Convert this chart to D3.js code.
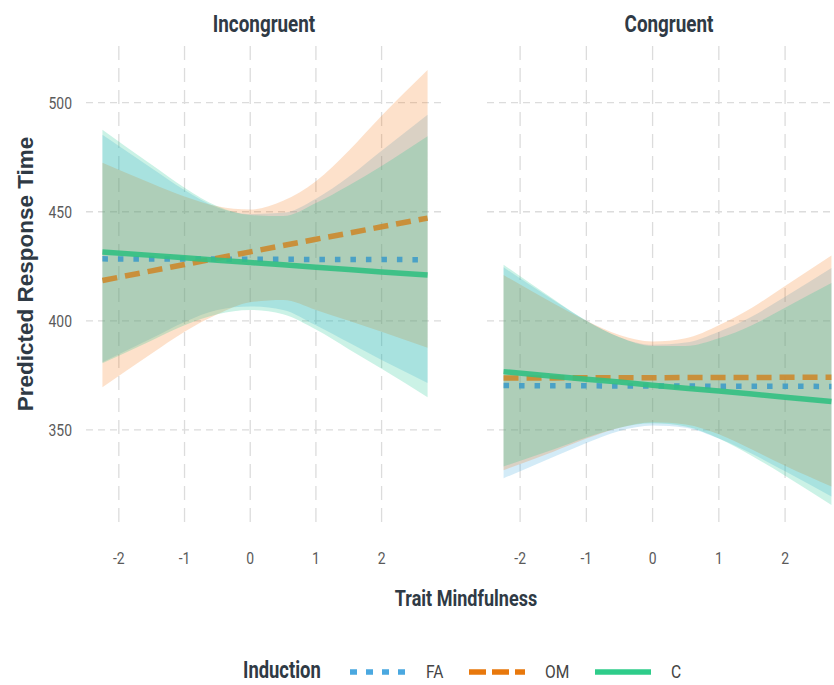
<!DOCTYPE html>
<html>
<head>
<meta charset="utf-8">
<script src="https://cdn.jsdelivr.net/npm/d3@7"></script>
<style>body{margin:0;background:#fff}</style>
</head>
<body>
<script>
let width = 834;
let height = 685;

let panels = ["Incongruent", "Congruent"];
let inductions = ["FA", "OM", "C"];
let mindfulness = [-2.25, -1.5, -1, -0.5, 0, 0.5, 1, 1.5, 2, 2.7];
let xTicks = [-2, -1, 0, 1, 2];
let yTicks = [350, 400, 450, 500];

// Incongruent panel: fitted value and interval bounds at each mindfulness score
let incFA = [428.4, 428.3, 428.3, 428.3, 428.2, 428.2, 428.1, 428.1, 428.1, 428.0];
let incFALow = [381, 392, 399.5, 405, 406.6, 405, 398, 390, 382, 371.5];
let incFAHigh = [485.3, 470, 460, 452, 449, 449.5, 456, 466, 478, 494.5];
let incOM = [418.5, 422.9, 425.8, 428.7, 431.6, 434.5, 437.4, 440.2, 443.1, 447.1];
let incOMLow = [369.5, 385, 395, 403, 408.5, 409.5, 405, 400, 395, 387.6];
let incOMHigh = [472.5, 463, 457, 452.5, 451, 455, 464, 478, 494, 515];
let incC = [431.6, 430.0, 428.9, 427.8, 426.7, 425.7, 424.6, 423.5, 422.4, 421.0];
let incCLow = [380.5, 391, 398, 403, 405, 403, 396, 387, 378, 365];
let incCHigh = [487.6, 471.5, 461, 452.5, 448.5, 448, 454, 462, 471, 484.6];

// Congruent panel
let conFA = [370.3, 370.2, 370.2, 370.1, 370.1, 370.1, 370.0, 370.0, 370.0, 369.9];
let conFALow = [327.8, 337.5, 344, 349.5, 352, 351, 346, 339, 331, 319.4];
let conFAHigh = [424.5, 409.5, 400, 392.5, 389, 390, 395, 402, 411, 424.2];
let conOM = [373.8, 373.8, 373.9, 373.9, 373.9, 374.0, 374.0, 374.0, 374.1, 374.1];
let conOMLow = [331.5, 340, 346, 351, 353.5, 352.5, 348, 341, 333.5, 324];
let conOMHigh = [421, 408, 400, 393.5, 390.5, 392, 398, 406, 416, 430];
let conC = [376.7, 374.6, 373.2, 371.9, 370.5, 369.1, 367.8, 366.4, 365.0, 363.0];
let conCLow = [333.2, 341, 346.5, 351, 353, 351.5, 346, 338, 329, 315.6];
let conCHigh = [425.7, 410, 400, 392.5, 388.5, 388.5, 392, 398, 406, 417.3];

let series = {
  Incongruent: {
    FA: [incFA, incFALow, incFAHigh],
    OM: [incOM, incOMLow, incOMHigh],
    C: [incC, incCLow, incCHigh]
  },
  Congruent: {
    FA: [conFA, conFALow, conFAHigh],
    OM: [conOM, conOMLow, conOMHigh],
    C: [conC, conCLow, conCHigh]
  }
};

let lineColor = { FA: "#4aa8e0", OM: "#e8780c", C: "#2ecc8a" };
let plotColor = { FA: "#3f9cc8", OM: "#cc8a2e", C: "#33c082" };
let fillColor = { FA: "#37a3db", OM: "#f57814", C: "#13c38b" };
let dash = { FA: "5.5,10", OM: "15,8", C: null };

let ink = "#2f3a45";
let tickInk = "#5a5a5a";
let font = "Roboto, 'Liberation Sans', sans-serif";
let squish = 0.82;

let svg = d3.select("body")
            .append("svg")
            .attr("width", width)
            .attr("height", height)
            .style("font-family", font);

let y = d3.scaleLinear().domain([305, 526]).range([528, 46]);
let xRanges = [[86, 444], [487, 848]];

// squeeze text horizontally, condensed look
function place(sel, px, py, sx) {
  return sel.attr("transform", "translate(" + px + "," + py + ") scale(" + sx + ",1)");
}

panels.forEach(function(p, i) {
  let x = d3.scaleLinear().domain([-2.5, 2.95]).range(xRanges[i]);
  let g = svg.append("g");

  // grid
  g.selectAll(".vgrid").data(xTicks).enter().append("line")
    .attr("x1", d => x(d)).attr("x2", d => x(d))
    .attr("y1", y.range()[1]).attr("y2", y.range()[0])
    .attr("stroke", "#dcdcdc").attr("stroke-width", 1.3)
    .attr("stroke-dasharray", "14,8");
  g.selectAll(".hgrid").data(yTicks).enter().append("line")
    .attr("x1", xRanges[i][0]).attr("x2", xRanges[i][1])
    .attr("y1", d => y(d)).attr("y2", d => y(d))
    .attr("stroke", "#dcdcdc").attr("stroke-width", 1.3)
    .attr("stroke-dasharray", "7,5");

  let rows = inductions.map(function(k) {
    let s = series[p][k];
    return { key: k, pts: mindfulness.map((m, j) => ({ m: m, fit: s[0][j], lo: s[1][j], hi: s[2][j] })) };
  });

  let line = d3.line().x(d => x(d.m)).y(d => y(d.fit));
  let area = d3.area().x(d => x(d.m)).y0(d => y(d.lo)).y1(d => y(d.hi))
               .curve(d3.curveMonotoneX);

  g.selectAll(".band").data(rows).enter().append("path")
    .attr("d", d => area(d.pts))
    .attr("fill", d => fillColor[d.key])
    .attr("fill-opacity", 0.22);

  g.selectAll(".fit").data(rows).enter().append("path")
    .attr("d", d => line(d.pts))
    .attr("fill", "none")
    .attr("stroke", d => plotColor[d.key])
    .attr("stroke-opacity", 0.9)
    .attr("stroke-width", 5.5)
    .attr("stroke-dasharray", d => dash[d.key]);

  // x tick labels
  g.selectAll(".xt").data(xTicks).enter().append("text")
    .attr("text-anchor", "middle")
    .attr("font-size", 17).attr("fill", tickInk)
    .text(d => d)
    .each(function(d) { place(d3.select(this), x(d), 564, squish); });

  // facet title
  place(g.append("text"), i ? 669 : 264, 32, squish)
    .attr("text-anchor", "middle")
    .attr("font-size", 23).attr("font-weight", "bold").attr("fill", ink)
    .text(p);
});

// y tick labels (left panel only)
svg.selectAll(".yt").data(yTicks).enter().append("text")
  .attr("text-anchor", "end")
  .attr("font-size", 17).attr("fill", tickInk)
  .text(d => d)
  .each(function(d) { place(d3.select(this), 72, y(d) + 6, squish); });

// axis titles
place(svg.append("text"), 466, 606, squish)
  .attr("text-anchor", "middle")
  .attr("font-size", 22).attr("font-weight", "bold").attr("fill", ink)
  .text("Trait Mindfulness");

svg.append("text")
  .attr("transform", "translate(33,274) rotate(-90)")
  .attr("text-anchor", "middle")
  .attr("font-family", "'Liberation Sans', Arial, sans-serif")
  .attr("font-size", 22.5).attr("font-weight", "bold").attr("fill", ink)
  .text("Predicted Response Time");

// legend
let legend = svg.append("g");
place(legend.append("text"), 243, 678, 0.8)
  .attr("font-size", 23).attr("font-weight", "bold").attr("fill", ink)
  .text("Induction");

let keyX = { FA: 350, OM: 469, C: 595 };
let keys = legend.selectAll(".key").data(inductions).enter().append("g")
  .attr("transform", d => "translate(" + keyX[d] + ",672)");
keys.append("line")
  .attr("x1", 0).attr("x2", 56)
  .attr("stroke", d => lineColor[d]).attr("stroke-width", 5.5)
  .attr("stroke-dasharray", d => d === "FA" ? "7,9" : d === "OM" ? "17,6" : null);
keys.append("text")
  .attr("font-size", 19).attr("fill", "#444")
  .text(d => d)
  .each(function() { place(d3.select(this), 76, 6, squish); });
</script>
</body>
</html>
